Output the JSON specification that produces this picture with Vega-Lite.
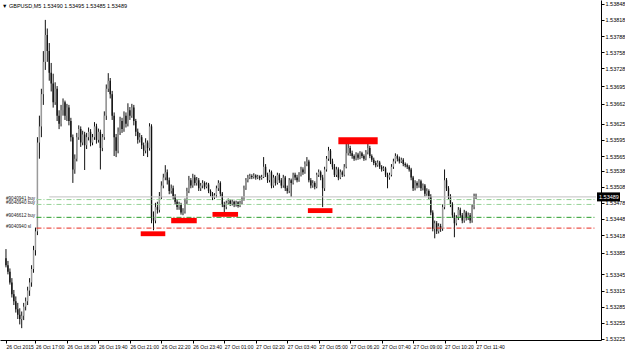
{
"$schema": "https://vega.github.io/schema/vega-lite/v6.json",
"width": 601, "height": 340,
"autosize": {"type": "none"},
"padding": {"left": 0, "top": 0, "right": 24, "bottom": 12},
"background": "white",
"config": {"view": {"stroke": null}, "font": "Liberation Sans"},
"title": {"text": "▼ GBPUSD,M5  1.53490 1.53495 1.53485 1.53489", "anchor": "start", "fontSize": 5.5, "fontWeight": "normal", "offset": -9, "color": "black", "dx": 2, "font": "Liberation Sans"},
"datasets": {
"candles": [
{"i":0,"o":1.53375,"h":1.53392,"l":1.53358,"c":1.53362},
{"i":1,"o":1.53362,"h":1.53370,"l":1.53345,"c":1.53350},
{"i":2,"o":1.53350,"h":1.53356,"l":1.53326,"c":1.53330},
{"i":3,"o":1.53330,"h":1.53338,"l":1.53302,"c":1.53308},
{"i":4,"o":1.53308,"h":1.53316,"l":1.53288,"c":1.53295},
{"i":5,"o":1.53295,"h":1.53304,"l":1.53274,"c":1.53280},
{"i":6,"o":1.53280,"h":1.53292,"l":1.53262,"c":1.53270},
{"i":7,"o":1.53270,"h":1.53282,"l":1.53252,"c":1.53262},
{"i":8,"o":1.53262,"h":1.53276,"l":1.53245,"c":1.53268},
{"i":9,"o":1.53268,"h":1.53292,"l":1.53260,"c":1.53285},
{"i":10,"o":1.53285,"h":1.53302,"l":1.53278,"c":1.53295},
{"i":11,"o":1.53295,"h":1.53322,"l":1.53288,"c":1.53315},
{"i":12,"o":1.53315,"h":1.53338,"l":1.53305,"c":1.53330},
{"i":13,"o":1.53330,"h":1.53362,"l":1.53322,"c":1.53355},
{"i":14,"o":1.53355,"h":1.53398,"l":1.53348,"c":1.53390},
{"i":15,"o":1.53390,"h":1.53432,"l":1.53380,"c":1.53425},
{"i":16,"o":1.53425,"h":1.53600,"l":1.53418,"c":1.53590},
{"i":17,"o":1.53590,"h":1.53640,"l":1.53560,"c":1.53620},
{"i":18,"o":1.53620,"h":1.53690,"l":1.53600,"c":1.53680},
{"i":19,"o":1.53680,"h":1.53760,"l":1.53660,"c":1.53740},
{"i":20,"o":1.53740,"h":1.53818,"l":1.53725,"c":1.53790},
{"i":21,"o":1.53790,"h":1.53802,"l":1.53740,"c":1.53760},
{"i":22,"o":1.53760,"h":1.53775,"l":1.53705,"c":1.53720},
{"i":23,"o":1.53720,"h":1.53738,"l":1.53685,"c":1.53700},
{"i":24,"o":1.53700,"h":1.53718,"l":1.53655,"c":1.53665},
{"i":25,"o":1.53665,"h":1.53702,"l":1.53660,"c":1.53690},
{"i":26,"o":1.53690,"h":1.53695,"l":1.53630,"c":1.53640},
{"i":27,"o":1.53640,"h":1.53650,"l":1.53615,"c":1.53625},
{"i":28,"o":1.53625,"h":1.53660,"l":1.53620,"c":1.53650},
{"i":29,"o":1.53650,"h":1.53672,"l":1.53640,"c":1.53665},
{"i":30,"o":1.53665,"h":1.53668,"l":1.53632,"c":1.53640},
{"i":31,"o":1.53640,"h":1.53662,"l":1.53630,"c":1.53655},
{"i":32,"o":1.53655,"h":1.53660,"l":1.53622,"c":1.53630},
{"i":33,"o":1.53630,"h":1.53636,"l":1.53592,"c":1.53600},
{"i":34,"o":1.53600,"h":1.53605,"l":1.53515,"c":1.53540},
{"i":35,"o":1.53540,"h":1.53568,"l":1.53532,"c":1.53560},
{"i":36,"o":1.53560,"h":1.53608,"l":1.53555,"c":1.53600},
{"i":37,"o":1.53600,"h":1.53622,"l":1.53595,"c":1.53615},
{"i":38,"o":1.53615,"h":1.53620,"l":1.53582,"c":1.53590},
{"i":39,"o":1.53590,"h":1.53612,"l":1.53585,"c":1.53605},
{"i":40,"o":1.53605,"h":1.53610,"l":1.53539,"c":1.53585},
{"i":41,"o":1.53585,"h":1.53608,"l":1.53578,"c":1.53600},
{"i":42,"o":1.53600,"h":1.53618,"l":1.53594,"c":1.53610},
{"i":43,"o":1.53610,"h":1.53615,"l":1.53583,"c":1.53590},
{"i":44,"o":1.53590,"h":1.53606,"l":1.53585,"c":1.53600},
{"i":45,"o":1.53600,"h":1.53628,"l":1.53595,"c":1.53620},
{"i":46,"o":1.53620,"h":1.53625,"l":1.53588,"c":1.53595},
{"i":47,"o":1.53595,"h":1.53616,"l":1.53590,"c":1.53610},
{"i":48,"o":1.53610,"h":1.53614,"l":1.53540,"c":1.53580},
{"i":49,"o":1.53580,"h":1.53606,"l":1.53574,"c":1.53600},
{"i":50,"o":1.53600,"h":1.53648,"l":1.53595,"c":1.53640},
{"i":51,"o":1.53640,"h":1.53698,"l":1.53632,"c":1.53690},
{"i":52,"o":1.53690,"h":1.53719,"l":1.53684,"c":1.53705},
{"i":53,"o":1.53705,"h":1.53710,"l":1.53672,"c":1.53680},
{"i":54,"o":1.53680,"h":1.53686,"l":1.53632,"c":1.53640},
{"i":55,"o":1.53640,"h":1.53646,"l":1.53565,"c":1.53600},
{"i":56,"o":1.53600,"h":1.53606,"l":1.53563,"c":1.53575},
{"i":57,"o":1.53575,"h":1.53618,"l":1.53570,"c":1.53610},
{"i":58,"o":1.53610,"h":1.53638,"l":1.53604,"c":1.53630},
{"i":59,"o":1.53630,"h":1.53636,"l":1.53608,"c":1.53615},
{"i":60,"o":1.53615,"h":1.53648,"l":1.53610,"c":1.53640},
{"i":61,"o":1.53640,"h":1.53646,"l":1.53618,"c":1.53625},
{"i":62,"o":1.53625,"h":1.53663,"l":1.53620,"c":1.53650},
{"i":63,"o":1.53650,"h":1.53656,"l":1.53632,"c":1.53640},
{"i":64,"o":1.53640,"h":1.53662,"l":1.53636,"c":1.53655},
{"i":65,"o":1.53655,"h":1.53660,"l":1.53622,"c":1.53630},
{"i":66,"o":1.53630,"h":1.53634,"l":1.53602,"c":1.53610},
{"i":67,"o":1.53610,"h":1.53616,"l":1.53588,"c":1.53595},
{"i":68,"o":1.53595,"h":1.53608,"l":1.53590,"c":1.53600},
{"i":69,"o":1.53600,"h":1.53604,"l":1.53578,"c":1.53585},
{"i":70,"o":1.53585,"h":1.53590,"l":1.53565,"c":1.53575},
{"i":71,"o":1.53575,"h":1.53598,"l":1.53570,"c":1.53590},
{"i":72,"o":1.53590,"h":1.53594,"l":1.53563,"c":1.53580},
{"i":73,"o":1.53580,"h":1.53626,"l":1.53575,"c":1.53620},
{"i":74,"o":1.53620,"h":1.53624,"l":1.53440,"c":1.53450},
{"i":75,"o":1.53450,"h":1.53462,"l":1.53427,"c":1.53445},
{"i":76,"o":1.53445,"h":1.53478,"l":1.53440,"c":1.53470},
{"i":77,"o":1.53470,"h":1.53480,"l":1.53458,"c":1.53465},
{"i":78,"o":1.53465,"h":1.53498,"l":1.53460,"c":1.53490},
{"i":79,"o":1.53490,"h":1.53518,"l":1.53485,"c":1.53510},
{"i":80,"o":1.53510,"h":1.53532,"l":1.53505,"c":1.53525},
{"i":81,"o":1.53525,"h":1.53548,"l":1.53520,"c":1.53535},
{"i":82,"o":1.53535,"h":1.53540,"l":1.53512,"c":1.53520},
{"i":83,"o":1.53520,"h":1.53525,"l":1.53494,"c":1.53500},
{"i":84,"o":1.53500,"h":1.53512,"l":1.53495,"c":1.53505},
{"i":85,"o":1.53505,"h":1.53510,"l":1.53484,"c":1.53490},
{"i":86,"o":1.53490,"h":1.53494,"l":1.53475,"c":1.53480},
{"i":87,"o":1.53480,"h":1.53485,"l":1.53465,"c":1.53470},
{"i":88,"o":1.53470,"h":1.53480,"l":1.53465,"c":1.53475},
{"i":89,"o":1.53475,"h":1.53478,"l":1.53456,"c":1.53460},
{"i":90,"o":1.53460,"h":1.53468,"l":1.53455,"c":1.53462},
{"i":91,"o":1.53462,"h":1.53486,"l":1.53458,"c":1.53480},
{"i":92,"o":1.53480,"h":1.53506,"l":1.53476,"c":1.53500},
{"i":93,"o":1.53500,"h":1.53528,"l":1.53496,"c":1.53520},
{"i":94,"o":1.53520,"h":1.53524,"l":1.53505,"c":1.53510},
{"i":95,"o":1.53510,"h":1.53532,"l":1.53506,"c":1.53525},
{"i":96,"o":1.53525,"h":1.53530,"l":1.53510,"c":1.53515},
{"i":97,"o":1.53515,"h":1.53526,"l":1.53510,"c":1.53520},
{"i":98,"o":1.53520,"h":1.53524,"l":1.53500,"c":1.53505},
{"i":99,"o":1.53505,"h":1.53515,"l":1.53500,"c":1.53510},
{"i":100,"o":1.53510,"h":1.53520,"l":1.53505,"c":1.53515},
{"i":101,"o":1.53515,"h":1.53518,"l":1.53503,"c":1.53508},
{"i":102,"o":1.53508,"h":1.53516,"l":1.53505,"c":1.53512},
{"i":103,"o":1.53512,"h":1.53515,"l":1.53496,"c":1.53500},
{"i":104,"o":1.53500,"h":1.53503,"l":1.53490,"c":1.53495},
{"i":105,"o":1.53495,"h":1.53498,"l":1.53483,"c":1.53488},
{"i":106,"o":1.53488,"h":1.53496,"l":1.53485,"c":1.53492},
{"i":107,"o":1.53492,"h":1.53510,"l":1.53488,"c":1.53505},
{"i":108,"o":1.53505,"h":1.53520,"l":1.53500,"c":1.53515},
{"i":109,"o":1.53515,"h":1.53518,"l":1.53490,"c":1.53495},
{"i":110,"o":1.53495,"h":1.53498,"l":1.53470,"c":1.53475},
{"i":111,"o":1.53475,"h":1.53480,"l":1.53461,"c":1.53470},
{"i":112,"o":1.53470,"h":1.53482,"l":1.53466,"c":1.53478},
{"i":113,"o":1.53478,"h":1.53486,"l":1.53474,"c":1.53482},
{"i":114,"o":1.53482,"h":1.53485,"l":1.53472,"c":1.53476},
{"i":115,"o":1.53476,"h":1.53484,"l":1.53473,"c":1.53480},
{"i":116,"o":1.53480,"h":1.53482,"l":1.53470,"c":1.53474},
{"i":117,"o":1.53474,"h":1.53482,"l":1.53471,"c":1.53479},
{"i":118,"o":1.53479,"h":1.53481,"l":1.53469,"c":1.53472},
{"i":119,"o":1.53472,"h":1.53482,"l":1.53470,"c":1.53478},
{"i":120,"o":1.53478,"h":1.53490,"l":1.53475,"c":1.53485},
{"i":121,"o":1.53485,"h":1.53510,"l":1.53482,"c":1.53505},
{"i":122,"o":1.53505,"h":1.53524,"l":1.53502,"c":1.53520},
{"i":123,"o":1.53520,"h":1.53530,"l":1.53516,"c":1.53525},
{"i":124,"o":1.53525,"h":1.53532,"l":1.53522,"c":1.53528},
{"i":125,"o":1.53528,"h":1.53531,"l":1.53522,"c":1.53526},
{"i":126,"o":1.53526,"h":1.53533,"l":1.53523,"c":1.53529},
{"i":127,"o":1.53529,"h":1.53531,"l":1.53521,"c":1.53525},
{"i":128,"o":1.53525,"h":1.53530,"l":1.53522,"c":1.53527},
{"i":129,"o":1.53527,"h":1.53529,"l":1.53520,"c":1.53524},
{"i":130,"o":1.53524,"h":1.53530,"l":1.53521,"c":1.53526},
{"i":131,"o":1.53526,"h":1.53563,"l":1.53524,"c":1.53545},
{"i":132,"o":1.53545,"h":1.53550,"l":1.53526,"c":1.53530},
{"i":133,"o":1.53530,"h":1.53534,"l":1.53515,"c":1.53520},
{"i":134,"o":1.53520,"h":1.53540,"l":1.53516,"c":1.53535},
{"i":135,"o":1.53535,"h":1.53538,"l":1.53505,"c":1.53510},
{"i":136,"o":1.53510,"h":1.53530,"l":1.53506,"c":1.53525},
{"i":137,"o":1.53525,"h":1.53528,"l":1.53510,"c":1.53515},
{"i":138,"o":1.53515,"h":1.53534,"l":1.53512,"c":1.53530},
{"i":139,"o":1.53530,"h":1.53533,"l":1.53515,"c":1.53520},
{"i":140,"o":1.53520,"h":1.53524,"l":1.53505,"c":1.53510},
{"i":141,"o":1.53510,"h":1.53530,"l":1.53506,"c":1.53525},
{"i":142,"o":1.53525,"h":1.53528,"l":1.53500,"c":1.53505},
{"i":143,"o":1.53505,"h":1.53510,"l":1.53495,"c":1.53500},
{"i":144,"o":1.53500,"h":1.53524,"l":1.53496,"c":1.53520},
{"i":145,"o":1.53520,"h":1.53523,"l":1.53489,"c":1.53515},
{"i":146,"o":1.53515,"h":1.53534,"l":1.53512,"c":1.53530},
{"i":147,"o":1.53530,"h":1.53534,"l":1.53520,"c":1.53525},
{"i":148,"o":1.53525,"h":1.53530,"l":1.53516,"c":1.53520},
{"i":149,"o":1.53520,"h":1.53535,"l":1.53517,"c":1.53530},
{"i":150,"o":1.53530,"h":1.53545,"l":1.53527,"c":1.53540},
{"i":151,"o":1.53540,"h":1.53544,"l":1.53530,"c":1.53535},
{"i":152,"o":1.53535,"h":1.53555,"l":1.53532,"c":1.53550},
{"i":153,"o":1.53550,"h":1.53563,"l":1.53546,"c":1.53555},
{"i":154,"o":1.53555,"h":1.53558,"l":1.53516,"c":1.53520},
{"i":155,"o":1.53520,"h":1.53524,"l":1.53505,"c":1.53510},
{"i":156,"o":1.53510,"h":1.53520,"l":1.53506,"c":1.53515},
{"i":157,"o":1.53515,"h":1.53518,"l":1.53503,"c":1.53508},
{"i":158,"o":1.53508,"h":1.53534,"l":1.53505,"c":1.53530},
{"i":159,"o":1.53530,"h":1.53540,"l":1.53526,"c":1.53535},
{"i":160,"o":1.53535,"h":1.53538,"l":1.53520,"c":1.53525},
{"i":161,"o":1.53525,"h":1.53530,"l":1.53470,"c":1.53505},
{"i":162,"o":1.53505,"h":1.53545,"l":1.53500,"c":1.53540},
{"i":163,"o":1.53540,"h":1.53565,"l":1.53536,"c":1.53560},
{"i":164,"o":1.53560,"h":1.53582,"l":1.53556,"c":1.53575},
{"i":165,"o":1.53575,"h":1.53578,"l":1.53550,"c":1.53555},
{"i":166,"o":1.53555,"h":1.53560,"l":1.53540,"c":1.53545},
{"i":167,"o":1.53545,"h":1.53550,"l":1.53526,"c":1.53530},
{"i":168,"o":1.53530,"h":1.53545,"l":1.53526,"c":1.53540},
{"i":169,"o":1.53540,"h":1.53544,"l":1.53520,"c":1.53525},
{"i":170,"o":1.53525,"h":1.53540,"l":1.53522,"c":1.53535},
{"i":171,"o":1.53535,"h":1.53538,"l":1.53526,"c":1.53530},
{"i":172,"o":1.53530,"h":1.53550,"l":1.53527,"c":1.53545},
{"i":173,"o":1.53545,"h":1.53589,"l":1.53542,"c":1.53570},
{"i":174,"o":1.53570,"h":1.53590,"l":1.53566,"c":1.53580},
{"i":175,"o":1.53580,"h":1.53584,"l":1.53565,"c":1.53570},
{"i":176,"o":1.53570,"h":1.53575,"l":1.53560,"c":1.53565},
{"i":177,"o":1.53565,"h":1.53568,"l":1.53556,"c":1.53560},
{"i":178,"o":1.53560,"h":1.53572,"l":1.53557,"c":1.53568},
{"i":179,"o":1.53568,"h":1.53571,"l":1.53558,"c":1.53562},
{"i":180,"o":1.53562,"h":1.53574,"l":1.53559,"c":1.53570},
{"i":181,"o":1.53570,"h":1.53573,"l":1.53561,"c":1.53565},
{"i":182,"o":1.53565,"h":1.53568,"l":1.53556,"c":1.53560},
{"i":183,"o":1.53560,"h":1.53576,"l":1.53557,"c":1.53572},
{"i":184,"o":1.53572,"h":1.53591,"l":1.53568,"c":1.53580},
{"i":185,"o":1.53580,"h":1.53584,"l":1.53561,"c":1.53565},
{"i":186,"o":1.53565,"h":1.53568,"l":1.53554,"c":1.53558},
{"i":187,"o":1.53558,"h":1.53562,"l":1.53548,"c":1.53552},
{"i":188,"o":1.53552,"h":1.53556,"l":1.53544,"c":1.53548},
{"i":189,"o":1.53548,"h":1.53557,"l":1.53545,"c":1.53553},
{"i":190,"o":1.53553,"h":1.53556,"l":1.53541,"c":1.53545},
{"i":191,"o":1.53545,"h":1.53548,"l":1.53536,"c":1.53540},
{"i":192,"o":1.53540,"h":1.53546,"l":1.53537,"c":1.53542},
{"i":193,"o":1.53542,"h":1.53545,"l":1.53526,"c":1.53530},
{"i":194,"o":1.53530,"h":1.53534,"l":1.53505,"c":1.53525},
{"i":195,"o":1.53525,"h":1.53534,"l":1.53521,"c":1.53530},
{"i":196,"o":1.53530,"h":1.53550,"l":1.53527,"c":1.53545},
{"i":197,"o":1.53545,"h":1.53560,"l":1.53541,"c":1.53555},
{"i":198,"o":1.53555,"h":1.53570,"l":1.53551,"c":1.53565},
{"i":199,"o":1.53565,"h":1.53568,"l":1.53555,"c":1.53560},
{"i":200,"o":1.53560,"h":1.53564,"l":1.53551,"c":1.53555},
{"i":201,"o":1.53555,"h":1.53562,"l":1.53552,"c":1.53558},
{"i":202,"o":1.53558,"h":1.53561,"l":1.53546,"c":1.53550},
{"i":203,"o":1.53550,"h":1.53553,"l":1.53544,"c":1.53548},
{"i":204,"o":1.53548,"h":1.53551,"l":1.53541,"c":1.53545},
{"i":205,"o":1.53545,"h":1.53548,"l":1.53536,"c":1.53540},
{"i":206,"o":1.53540,"h":1.53543,"l":1.53520,"c":1.53525},
{"i":207,"o":1.53525,"h":1.53528,"l":1.53500,"c":1.53505},
{"i":208,"o":1.53505,"h":1.53520,"l":1.53501,"c":1.53515},
{"i":209,"o":1.53515,"h":1.53518,"l":1.53505,"c":1.53510},
{"i":210,"o":1.53510,"h":1.53522,"l":1.53506,"c":1.53518},
{"i":211,"o":1.53518,"h":1.53521,"l":1.53500,"c":1.53505},
{"i":212,"o":1.53505,"h":1.53514,"l":1.53501,"c":1.53510},
{"i":213,"o":1.53510,"h":1.53513,"l":1.53490,"c":1.53495},
{"i":214,"o":1.53495,"h":1.53505,"l":1.53491,"c":1.53500},
{"i":215,"o":1.53500,"h":1.53503,"l":1.53485,"c":1.53490},
{"i":216,"o":1.53490,"h":1.53494,"l":1.53455,"c":1.53460},
{"i":217,"o":1.53460,"h":1.53464,"l":1.53425,"c":1.53430},
{"i":218,"o":1.53430,"h":1.53445,"l":1.53412,"c":1.53440},
{"i":219,"o":1.53440,"h":1.53444,"l":1.53420,"c":1.53425},
{"i":220,"o":1.53425,"h":1.53440,"l":1.53421,"c":1.53435},
{"i":221,"o":1.53435,"h":1.53439,"l":1.53424,"c":1.53430},
{"i":222,"o":1.53430,"h":1.53475,"l":1.53426,"c":1.53470},
{"i":223,"o":1.53470,"h":1.53540,"l":1.53466,"c":1.53520},
{"i":224,"o":1.53520,"h":1.53524,"l":1.53500,"c":1.53505},
{"i":225,"o":1.53505,"h":1.53509,"l":1.53485,"c":1.53490},
{"i":226,"o":1.53490,"h":1.53494,"l":1.53470,"c":1.53475},
{"i":227,"o":1.53475,"h":1.53479,"l":1.53450,"c":1.53455},
{"i":228,"o":1.53455,"h":1.53460,"l":1.53414,"c":1.53440},
{"i":229,"o":1.53440,"h":1.53455,"l":1.53436,"c":1.53450},
{"i":230,"o":1.53450,"h":1.53470,"l":1.53446,"c":1.53465},
{"i":231,"o":1.53465,"h":1.53469,"l":1.53450,"c":1.53455},
{"i":232,"o":1.53455,"h":1.53459,"l":1.53440,"c":1.53445},
{"i":233,"o":1.53445,"h":1.53465,"l":1.53441,"c":1.53460},
{"i":234,"o":1.53460,"h":1.53463,"l":1.53445,"c":1.53450},
{"i":235,"o":1.53450,"h":1.53460,"l":1.53446,"c":1.53455},
{"i":236,"o":1.53455,"h":1.53459,"l":1.53440,"c":1.53445},
{"i":237,"o":1.53445,"h":1.53475,"l":1.53441,"c":1.53470},
{"i":238,"o":1.53470,"h":1.53495,"l":1.53466,"c":1.53490},
{"i":239,"o":1.53490,"h":1.53495,"l":1.53485,"c":1.53489}
],
"orders": [
{"name":"#9040941 buy","p":1.53484},
{"name":"#9040940 buy","p":1.53475},
{"name":"#9046612 buy","p":1.53451},
{"name":"#9040940 sl","p":1.53431}
],
"zones": [
{"a":68.5,"b":81,"lo":1.53416,"hi":1.53425},
{"a":84,"b":97,"lo":1.53440,"hi":1.53450},
{"a":105,"b":118,"lo":1.53452,"hi":1.53461},
{"a":153.5,"b":166,"lo":1.53459,"hi":1.53468},
{"a":169,"b":189,"lo":1.53587,"hi":1.53600}
],
"bid": [{"p":1.53489}]
},
"layer": [
{
"data": {"name": "candles"},
"mark": {"type": "rule", "color": "#111111", "strokeWidth": 1},
"encoding": {
"x": {"field": "i", "type": "quantitative", "scale": {"domain": [-0.5, 300], "nice": false, "zero": false},
"axis": {"title": null, "orient": "bottom", "grid": false, "domainColor": "#000000", "tickColor": "#000000", "tickSize": 3, "labelFontSize": 5, "labelColor": "#000000", "labelAlign": "left", "labelPadding": 1, "labelFlush": false, "labelOverlap": false, "labelBound": false, "tickCount": 40,
"values": [0, 15, 31, 47, 63, 79, 95, 111, 127, 143, 159, 175, 191, 207, 223, 239],
"labelExpr": "['26 Oct 2015','26 Oct 17:00','26 Oct 18:20','26 Oct 19:40','26 Oct 21:00','26 Oct 22:20','26 Oct 23:40','27 Oct 01:00','27 Oct 02:20','27 Oct 03:40','27 Oct 05:00','27 Oct 06:20','27 Oct 07:40','27 Oct 09:00','27 Oct 10:20','27 Oct 11:40'][indexof([0,15,31,47,63,79,95,111,127,143,159,175,191,207,223,239], datum.value)]"}},
"y": {"field": "l", "type": "quantitative", "scale": {"domain": [1.53223, 1.53855], "nice": false, "zero": false},
"axis": {"title": null, "orient": "right", "grid": false, "domainColor": "#000000", "tickColor": "#000000", "tickSize": 3, "labelFontSize": 5.5, "labelColor": "#000000", "labelPadding": 1, "format": ".5f", "labelOverlap": false, "labelBound": false, "tickCount": 40,
"values": [1.53848, 1.53818, 1.53788, 1.53758, 1.53728, 1.53695, 1.53662, 1.53625, 1.53595, 1.53565, 1.53538, 1.53508, 1.53478, 1.53448, 1.53418, 1.53385, 1.53345, 1.53315, 1.53285, 1.53255, 1.53225]}},
"y2": {"field": "h"}
}
},
{
"data": {"name": "candles"},
"mark": {"type": "bar", "width": 1.4},
"encoding": {
"x": {"field": "i", "type": "quantitative"},
"y": {"field": "o", "type": "quantitative"},
"y2": {"field": "c"},
"color": {"condition": {"test": "datum.c >= datum.o", "value": "#9a9a9a"}, "value": "#111111"}
}
},
{
"data": {"name": "bid"},
"mark": {"type": "rule", "color": "#c0c0c0", "strokeWidth": 1},
"encoding": {
"y": {"field": "p", "type": "quantitative"},
"x": {"datum": 22, "type": "quantitative"},
"x2": {"datum": 300}
}
},
{
"data": {"name": "orders"},
"mark": {"type": "rule", "strokeWidth": 1, "strokeDash": [5, 2, 1, 2]},
"encoding": {
"y": {"field": "p", "type": "quantitative"},
"x": {"datum": 15.5, "type": "quantitative"},
"x2": {"datum": 300},
"color": {"field": "name", "type": "nominal", "legend": null,
"scale": {"domain": ["#9040941 buy", "#9040940 buy", "#9046612 buy", "#9040940 sl"], "range": ["#96d296", "#96d296", "#2a9d2a", "#e8281e"]}}
}
},
{
"data": {"name": "orders"},
"mark": {"type": "text", "align": "left", "baseline": "middle", "fontSize": 4.6, "color": "#222222", "dx": 1, "dy": -1, "clip": false},
"encoding": {
"y": {"field": "p", "type": "quantitative"},
"x": {"datum": -0.5, "type": "quantitative"},
"text": {"field": "name"}
}
},
{
"data": {"name": "zones"},
"mark": {"type": "rect", "color": "#ff0000"},
"encoding": {
"x": {"field": "a", "type": "quantitative"},
"x2": {"field": "b"},
"y": {"field": "lo", "type": "quantitative"},
"y2": {"field": "hi"}
}
},
{
"data": {"name": "bid"},
"mark": {"type": "rect", "color": "#000000", "clip": false, "xOffset": 1, "x2Offset": 24, "yOffset": 4.5, "y2Offset": -4.5},
"encoding": {
"x": {"datum": 300, "type": "quantitative"},
"x2": {"datum": 300},
"y": {"field": "p", "type": "quantitative"},
"y2": {"field": "p"}
}
},
{
"data": {"name": "bid"},
"mark": {"type": "text", "color": "#ffffff", "clip": false, "align": "left", "baseline": "middle", "fontSize": 5.5, "dx": 3},
"encoding": {
"x": {"datum": 300, "type": "quantitative"},
"y": {"field": "p", "type": "quantitative"},
"text": {"field": "p", "type": "quantitative", "format": ".5f"}
}
}
]
}
